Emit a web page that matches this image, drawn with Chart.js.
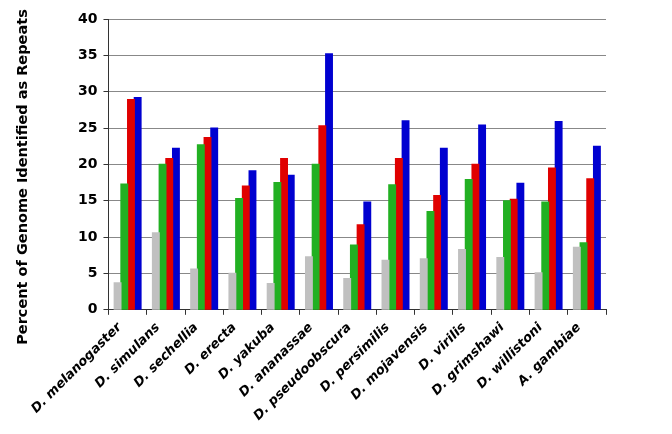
<!DOCTYPE html>
<html>
<head>
<meta charset="utf-8">
<script src="https://cdn.jsdelivr.net/npm/chart.js@4"></script>
<style>
  html, body { margin: 0; padding: 0; background: #fff; }
  #wrap { width: 672px; height: 434px; }
</style>
</head>
<body>
<div id="wrap"><canvas id="repeatsChart"></canvas></div>
<script>
const species = ['D. melanogaster', 'D. simulans', 'D. sechellia', 'D. erecta', 'D. yakuba',
  'D. ananassae', 'D. pseudoobscura', 'D. persimilis', 'D. mojavensis', 'D. virilis',
  'D. grimshawi', 'D. willistoni', 'A. gambiae'];

// four series per species
const graySeries  = [3.7, 10.6, 5.6, 5.0, 3.6, 7.3, 4.3, 6.8, 7.0, 8.3, 7.2, 5.1, 8.6];
const greenSeries = [17.3, 20.0, 22.7, 15.3, 17.5, 20.0, 8.9, 17.2, 13.5, 17.9, 15.0, 14.8, 9.2];
const redSeries   = [28.9, 20.8, 23.7, 17.0, 20.8, 25.3, 11.7, 20.8, 15.7, 20.0, 15.2, 19.5, 18.0];
const blueSeries  = [29.2, 22.2, 25.0, 19.1, 18.5, 35.2, 14.8, 26.0, 22.2, 25.4, 17.4, 25.9, 22.5];

const yTicks = [0, 5, 10, 15, 20, 25, 30, 35, 40];
const yTitle = 'Percent of Genome Identified as Repeats';

const mkSet = (data, color) => ({
  data,
  backgroundColor: color,
  borderWidth: 0,
  inflateAmount: 0.6,
  barPercentage: 1.0,
  categoryPercentage: 0.7
});

// y title sits a bit lower than the plot centre in the original, so draw it by hand
const yTitlePlugin = {
  id: 'yTitle',
  afterDraw(chart) {
    const c = chart.ctx;
    c.save();
    c.translate(23, 177);
    c.rotate(-Math.PI / 2);
    c.font = 'bold 14.5px "DejaVu Sans"';
    c.fillStyle = '#000';
    c.textAlign = 'center';
    c.textBaseline = 'middle';
    c.fillText(yTitle, 0, 0);
    c.restore();
  }
};

const ctx = document.getElementById('repeatsChart').getContext('2d');
new Chart(ctx, {
  type: 'bar',
  data: {
    labels: species,
    datasets: [
      mkSet(graySeries, '#c0c0c0'),
      mkSet(greenSeries, '#22b022'),
      mkSet(redSeries, '#e00000'),
      mkSet(blueSeries, '#0000d0')
    ]
  },
  plugins: [yTitlePlugin],
  options: {
    responsive: true,
    maintainAspectRatio: false,
    animation: false,
    layout: { padding: { left: 72, right: 66, top: 19, bottom: 5 } },
    plugins: {
      legend: { display: false },
      tooltip: { enabled: false }
    },
    scales: {
      x: {
        grid: {
          offset: true,
          drawOnChartArea: true,
          color: c => c.index === species.length ? '#999' : 'rgba(0,0,0,0)',
          tickColor: '#333',
          tickLength: 5
        },
        border: { color: '#333', width: 1 },
        ticks: {
          color: '#000',
          minRotation: 45,
          maxRotation: 45,
          padding: 5,
          labelOffset: -8,
          font: { family: 'DejaVu Sans', size: 13, weight: 'bold', style: 'italic' }
        }
      },
      y: {
        min: 0,
        max: 40,
        afterBuildTicks: axis => { axis.ticks = yTicks.map(v => ({ value: v })); },
        grid: { color: '#888', tickColor: '#333', tickLength: 5 },
        border: { color: '#333', width: 1 },
        ticks: {
          color: '#000',
          padding: 6,
          font: { family: 'DejaVu Sans', size: 14, weight: 'bold' }
        }
      }
    }
  }
});
</script>
</body>
</html>
